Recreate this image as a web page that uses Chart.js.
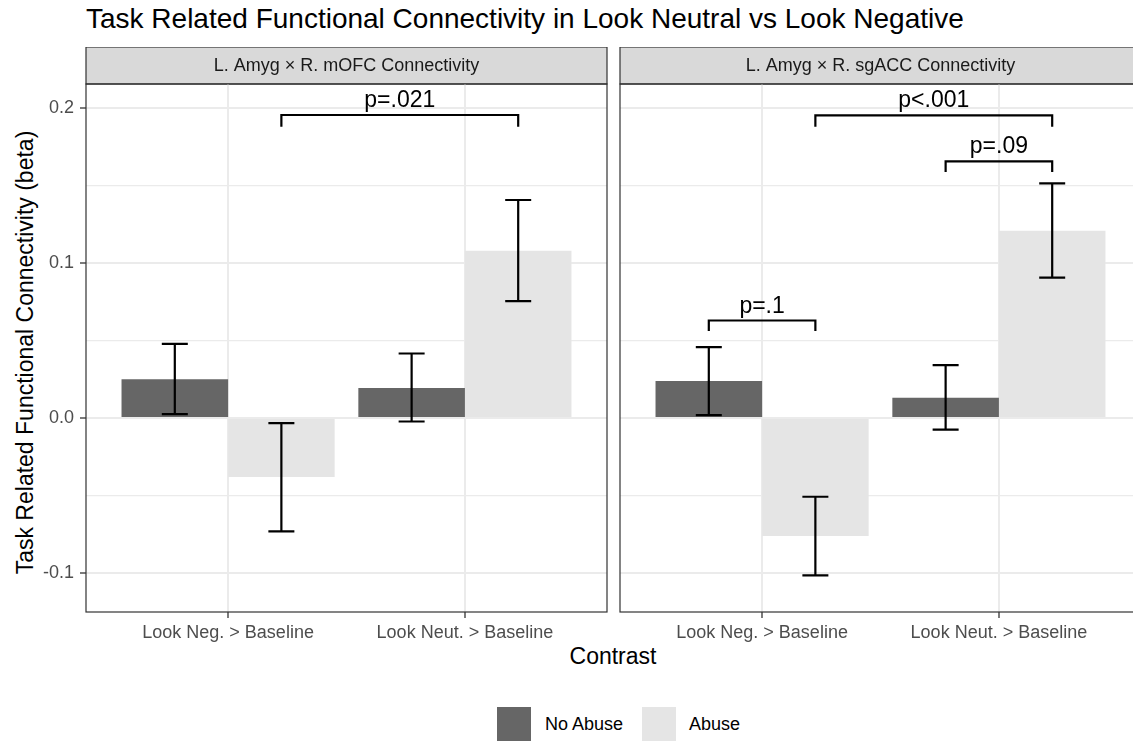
<!DOCTYPE html>
<html>
<head>
<meta charset="utf-8">
<script src="https://cdn.jsdelivr.net/npm/chart.js@4.4.1/dist/chart.umd.min.js"></script>
<style>
html,body{margin:0;padding:0;background:#fff;}
body{width:1133px;height:744px;overflow:hidden;position:relative;font-family:"Liberation Sans",Arial,sans-serif;}
.abs{position:absolute;white-space:nowrap;line-height:1;color:#000;}
#title{left:86px;top:5px;font-size:28px;}
#ytitle{left:-275px;top:341px;width:600px;height:23px;font-size:23px;text-align:center;transform:rotate(-90deg);}
#xtitle{left:363px;top:645px;width:500px;font-size:23px;text-align:center;}
.key{position:absolute;top:707px;width:34px;height:34px;}
.ltxt{top:715px;font-size:18px;}
#cLeft{position:absolute;left:0;top:47px;}
#cRight{position:absolute;left:610px;top:47px;}
</style>
</head>
<body>
<div class="abs" id="title">Task Related Functional Connectivity in Look Neutral vs Look Negative</div>
<div class="abs" id="ytitle">Task Related Functional Connectivity (beta)</div>
<div class="abs" id="xtitle">Contrast</div>
<div class="key" style="left:497px;background:#666666"></div>
<div class="abs ltxt" style="left:545px">No Abuse</div>
<div class="key" style="left:642px;background:#e5e5e5"></div>
<div class="abs ltxt" style="left:689px">Abuse</div>

<canvas id="cLeft" width="612" height="606"></canvas>
<canvas id="cRight" width="540" height="606"></canvas>

<script>
const contrasts = ['Look Neg. > Baseline', 'Look Neut. > Baseline'];
const contrastPos = [1, 2];
const groups = ['No Abuse', 'Abuse'];
const groupColors = ['#666666', '#e5e5e5'];
const yTicks = [-0.1, -0.05, 0, 0.05, 0.1, 0.15, 0.2];
const yMajor = [-0.1, 0, 0.1, 0.2];

// L. Amyg x R. mOFC
const mofcNoAbuse   = [0.025, 0.0195];
const mofcNoAbuseLo = [0.0026, -0.0022];
const mofcNoAbuseHi = [0.0479, 0.0417];
const mofcAbuse     = [-0.0381, 0.1081];
const mofcAbuseLo   = [-0.0731, 0.0755];
const mofcAbuseHi   = [-0.0032, 0.1408];

// L. Amyg x R. sgACC
const sgaccNoAbuse   = [0.0239, 0.0131];
const sgaccNoAbuseLo = [0.0019, -0.0075];
const sgaccNoAbuseHi = [0.0458, 0.0342];
const sgaccAbuse     = [-0.0761, 0.1210];
const sgaccAbuseLo   = [-0.1015, 0.0907];
const sgaccAbuseHi   = [-0.0508, 0.1516];

// significance brackets: [group, contrast] -> [group, contrast]
const mofcBrackets = [
  {from:[1,0], to:[1,1], y:0.1957, tip:0.1881, label:'p=.021'}
];
const sgaccBrackets = [
  {from:[1,0], to:[1,1], y:0.1955, tip:0.1881, label:'p<.001'},
  {from:[0,1], to:[1,1], y:0.1658, tip:0.1589, label:'p=.09'},
  {from:[0,0], to:[1,0], y:0.0630, tip:0.0563, label:'p=.1'}
];

const FONT = '"Liberation Sans", Arial, sans-serif';
Chart.defaults.font.family = FONT;
const isMajor = v => yMajor.some(m => Math.abs(m - v) < 1e-9);

function deco(strip, brackets){
  return {
    id:'deco',
    beforeDraw(chart){
      const {ctx, chartArea:a} = chart;
      ctx.save();
      ctx.fillStyle = '#d9d9d9';
      ctx.fillRect(a.left, a.top-37, a.right-a.left, 37);
      ctx.strokeStyle = '#333'; ctx.lineWidth = 1.2;
      ctx.strokeRect(a.left, a.top-37, a.right-a.left, 37);
      ctx.fillStyle = '#1a1a1a';
      ctx.font = '18px ' + FONT;
      ctx.textAlign = 'center'; ctx.textBaseline = 'middle';
      ctx.fillText(strip, (a.left+a.right)/2, a.top-18);
      ctx.restore();
    },
    afterDatasetsDraw(chart){
      const {ctx} = chart;
      const ys = chart.scales.y;
      ctx.save();
      ctx.strokeStyle = '#000'; ctx.lineWidth = 2.2;
      // error bars
      chart.data.datasets.forEach((ds, i) => {
        chart.getDatasetMeta(i).data.forEach((el, j) => {
          const yl = ys.getPixelForValue(ds.lo[j]), yh = ys.getPixelForValue(ds.hi[j]);
          ctx.beginPath();
          ctx.moveTo(el.x, yl); ctx.lineTo(el.x, yh);
          ctx.moveTo(el.x-13, yl); ctx.lineTo(el.x+13, yl);
          ctx.moveTo(el.x-13, yh); ctx.lineTo(el.x+13, yh);
          ctx.stroke();
        });
      });
      // brackets
      ctx.fillStyle = '#000';
      ctx.font = '23px ' + FONT;
      ctx.textAlign = 'center'; ctx.textBaseline = 'alphabetic';
      brackets.forEach(b => {
        const x1 = chart.getDatasetMeta(b.from[0]).data[b.from[1]].x;
        const x2 = chart.getDatasetMeta(b.to[0]).data[b.to[1]].x;
        const by = ys.getPixelForValue(b.y), ty = ys.getPixelForValue(b.tip);
        ctx.beginPath();
        ctx.moveTo(x1, ty); ctx.lineTo(x1, by); ctx.lineTo(x2, by); ctx.lineTo(x2, ty);
        ctx.stroke();
        ctx.fillText(b.label, (x1+x2)/2, by-8);
      });
      ctx.restore();
    },
    afterDraw(chart){
      const {ctx, chartArea:a} = chart;
      ctx.save();
      ctx.strokeStyle = '#333'; ctx.lineWidth = 1.2;
      ctx.strokeRect(a.left, a.top, a.right-a.left, a.bottom-a.top);
      ctx.restore();
    }
  };
}

function makePanel(id, strip, noAbuse, noLo, noHi, abuse, abLo, abHi, brackets, showY){
  const series = [[noAbuse, noLo, noHi], [abuse, abLo, abHi]];
  return new Chart(document.getElementById(id), {
    type:'bar',
    data:{
      datasets: series.map((s, g) => ({
        label: groups[g],
        data: s[0].map((v, i) => ({x: contrastPos[i], y: v})),
        lo: s[1], hi: s[2],
        backgroundColor: groupColors[g],
        borderWidth: 0,
        categoryPercentage: 0.9,
        barPercentage: 1
      }))
    },
    options:{
      responsive:false,
      animation:false,
      layout:{padding:{top:37, left:0, right: showY ? 5 : 9, bottom:0}},
      plugins:{legend:{display:false}, tooltip:{enabled:false}},
      scales:{
        x:{
          type:'linear', min:0.4, max:2.6, offset:false,
          afterBuildTicks: s => { s.ticks = contrastPos.map(v => ({value:v})); },
          afterFit: s => { s.height = 41; },
          border:{display:false},
          grid:{offset:false, color:'#ebebeb', lineWidth:2, tickLength:6, tickColor:'#333', tickWidth:1.3},
          ticks:{
            callback: v => contrasts[contrastPos.indexOf(v)],
            color:'#4d4d4d', font:{size:18}, padding:4, maxRotation:0, autoSkip:false
          }
        },
        y:{
          min:-0.1252, max:0.2157,
          afterBuildTicks: s => { s.ticks = yTicks.map(v => ({value:v})); },
          afterFit: s => { s.width = showY ? 86 : 10; },
          border:{display:false},
          grid:{
            color:'#ebebeb',
            lineWidth: c => (c.tick && isMajor(c.tick.value)) ? 2 : 1.2,
            drawTicks: showY, tickLength:6, tickWidth:1.3,
            tickColor: c => (c.tick && isMajor(c.tick.value)) ? '#333' : 'rgba(0,0,0,0)'
          },
          ticks:{
            display: showY,
            callback: v => isMajor(v) ? v.toFixed(1) : '',
            color:'#4d4d4d', font:{size:18}, padding:6
          }
        }
      }
    },
    plugins:[deco(strip, brackets)]
  });
}

makePanel('cLeft', 'L. Amyg × R. mOFC Connectivity',
  mofcNoAbuse, mofcNoAbuseLo, mofcNoAbuseHi, mofcAbuse, mofcAbuseLo, mofcAbuseHi, mofcBrackets, true);
makePanel('cRight', 'L. Amyg × R. sgACC Connectivity',
  sgaccNoAbuse, sgaccNoAbuseLo, sgaccNoAbuseHi, sgaccAbuse, sgaccAbuseLo, sgaccAbuseHi, sgaccBrackets, false);
</script>
</body>
</html>
